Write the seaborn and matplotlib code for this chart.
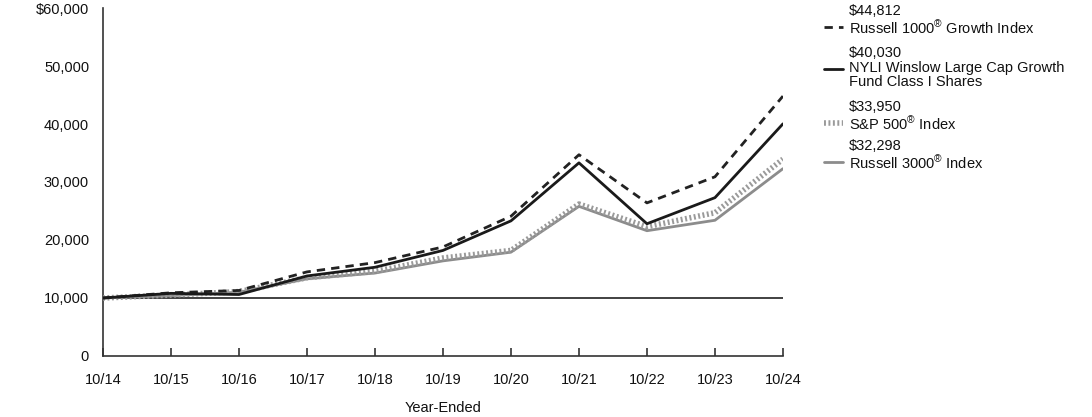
import numpy as np
import pandas as pd
import matplotlib as mpl
mpl.use("Agg")
import matplotlib.pyplot as plt
import seaborn as sns

years = ["10/14", "10/15", "10/16", "10/17", "10/18", "10/19",
         "10/20", "10/21", "10/22", "10/23", "10/24"]
r1000g = [10000, 10900, 11300, 14500, 16100, 18800, 24100, 34700, 26400, 30900, 44812]
fund = [10000, 10800, 10600, 13800, 15300, 18200, 23300, 33300, 22800, 27300, 40030]
sp500 = [10000, 10500, 11100, 13500, 14600, 16900, 18200, 26200, 22300, 24700, 33950]
r3000 = [10000, 10400, 11000, 13300, 14300, 16400, 17900, 25800, 21600, 23400, 32298]

names = ["Russell 1000$^{®}$ Growth Index",
         "NYLI Winslow Large Cap Growth\nFund Class I Shares",
         "S&P 500$^{®}$ Index",
         "Russell 3000$^{®}$ Index"]
end_labels = ["$44,812", "$40,030", "$33,950", "$32,298"]

sns.set_theme(style="white")
plt.rcParams["font.family"] = ["Liberation Sans", "DejaVu Sans"]
plt.rcParams["mathtext.fontset"] = "custom"
plt.rcParams["mathtext.rm"] = "Liberation Sans"
plt.rcParams["mathtext.it"] = "Liberation Sans"
plt.rcParams["xtick.direction"] = "in"

FS = 10.5
df = pd.DataFrame({"x": np.arange(len(years))})

fig = plt.figure(figsize=(10.92, 4.17), dpi=100)
ax = fig.add_axes([0.0943, 0.1463, 0.6227, 0.8345])

ax.axhline(10000, color="#333333", lw=1.3, zorder=1)

styles = [
    dict(color="#222222", lw=2.0, dashes=(3, 2.2)),
    dict(color="#1a1a1a", lw=2.0),
    dict(color="#9a9a9a", lw=4.0, dashes=(0.35, 0.45)),
    dict(color="#8c8c8c", lw=2.0),
]
series = [r1000g, fund, sp500, r3000]
order = [3, 2, 0, 1]
for i in order:
    st = dict(styles[i])
    d = st.pop("dashes", None)
    sns.lineplot(x=df["x"], y=series[i], ax=ax, color=st["color"],
                 lw=st["lw"], zorder=3 + order.index(i))
    if d is not None:
        ax.lines[-1].set_dashes(d)

ax.set_xlim(0, len(years) - 1)
ax.set_ylim(0, 60000)
ax.set_xticks(np.arange(len(years)))
ax.set_xticklabels(years)
ax.set_yticks(np.arange(0, 60001, 10000))
ax.set_yticklabels(["0", "10,000", "20,000", "30,000", "40,000", "50,000", "$60,000"])
ax.set_yticks([60000], minor=True)
ax.tick_params(axis="y", which="major", length=0, pad=10, labelsize=FS, colors="#111111")
ax.tick_params(axis="y", which="minor", length=17, direction="in", width=1.2, color="#333333", left=True)
ax.tick_params(axis="x", which="major", length=6, direction="in", width=1.2, color="#333333",
               pad=12, labelsize=FS, labelcolor="#111111", bottom=True)
for s in ["top", "right"]:
    ax.spines[s].set_visible(False)
for s in ["left", "bottom"]:
    ax.spines[s].set_color("#333333")
    ax.spines[s].set_linewidth(1.2)
ax.set_xlabel("Year-Ended", fontsize=FS, labelpad=10, color="#111111")
ax.set_ylabel("")

# legend block at right
W, H = 1092.0, 417.0
tops = [11, 53, 107, 146]
for i in range(4):
    y0 = tops[i]
    fig.text(849 / W, 1 - y0 / H, end_labels[i].replace("$", r"\$"), fontsize=FS,
             va="center", ha="left", color="#111111")
    fig.text(849 / W, 1 - (y0 + 8) / H, names[i], fontsize=FS, va="top",
             ha="left", color="#111111", linespacing=1.0)
    ly = 1 - (y0 + 16) / H
    st = dict(styles[i])
    d = st.pop("dashes", None)
    ln = plt.Line2D([824 / W, 843 / W], [ly, ly], transform=fig.transFigure,
                    color=st["color"], lw=st["lw"])
    if d is not None:
        ln.set_dashes(d)
    fig.add_artist(ln)

fig.savefig("out.png", dpi=100)
